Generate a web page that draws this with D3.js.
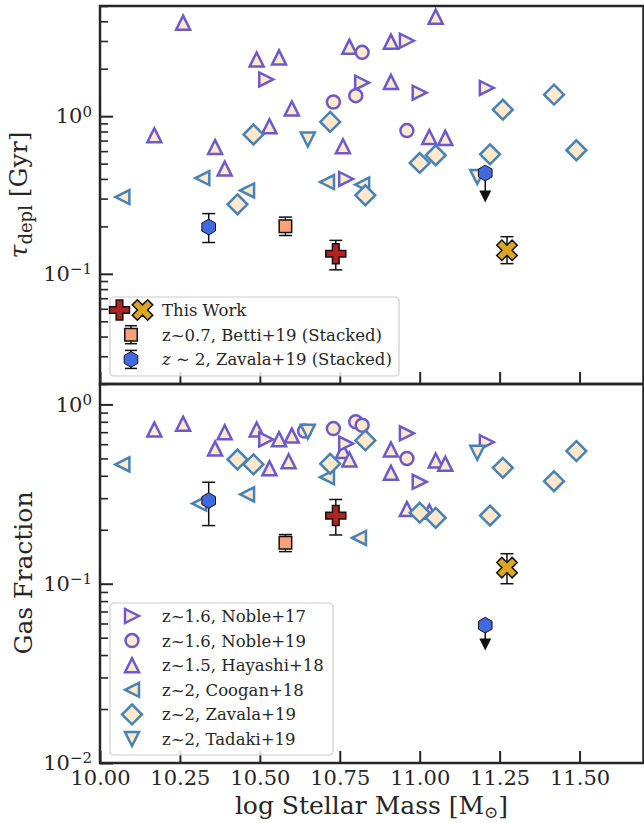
<!DOCTYPE html>
<html>
<head>
<meta charset="utf-8">
<script src="https://cdn.jsdelivr.net/npm/d3@7"></script>
<style>
  body { margin: 0; background: #fff; }
  text { font-family: "DejaVu Serif", serif; fill: #262626; }
</style>
</head>
<body>
<div id="chart"></div>
<script>
// ---- data ----
const xTicks = [10.0, 10.25, 10.5, 10.75, 11.0, 11.25, 11.5];

// top panel: depletion time [Gyr]
const noble17MassT = [10.52, 10.82, 10.96, 11.00, 11.21, 10.77];
const noble17Tau   = [1.71, 1.63, 3.01, 1.41, 1.51, 0.40];
const noble19MassT = [10.73, 10.80, 10.82, 10.96];
const noble19Tau   = [1.23, 1.35, 2.54, 0.81];
const hayashiMassT = [10.26, 10.49, 10.56, 10.60, 10.17, 10.53, 10.36, 10.39, 10.78, 11.05, 10.91, 10.91, 11.03, 11.08, 10.76];
const hayashiTau   = [3.92, 2.29, 2.36, 1.12, 0.757, 0.864, 0.638, 0.465, 2.76, 4.28, 2.97, 1.65, 0.738, 0.728, 0.645];
const cooganMassT  = [10.07, 10.32, 10.46, 10.71, 10.82];
const cooganTau    = [0.307, 0.405, 0.338, 0.382, 0.368];
const zavalaMassT  = [10.48, 10.43, 10.72, 10.83, 11.00, 11.05, 11.22, 11.26, 11.42, 11.49];
const zavalaTau    = [0.765, 0.276, 0.92, 0.315, 0.505, 0.565, 0.573, 1.10, 1.37, 0.608];
const tadakiMassT  = [10.65, 11.18];
const tadakiTau    = [0.711, 0.411];

// bottom panel: gas fraction
const noble17MassF = [10.52, 10.77, 10.96, 11.00, 11.21];
const noble17Fgas  = [0.638, 0.605, 0.69, 0.37, 0.616];
const noble19MassF = [10.64, 10.73, 10.80, 10.82, 10.96];
const noble19Fgas  = [0.71, 0.733, 0.80, 0.765, 0.50];
const hayashiMassF = [10.17, 10.26, 10.39, 10.36, 10.49, 10.56, 10.60, 10.53, 10.59, 10.76, 10.78, 10.91, 10.91, 10.96, 11.03, 11.05, 11.08];
const hayashiFgas  = [0.725, 0.78, 0.70, 0.567, 0.725, 0.64, 0.67, 0.44, 0.482, 0.549, 0.493, 0.561, 0.416, 0.261, 0.252, 0.487, 0.467];
const cooganMassF  = [10.07, 10.31, 10.46, 10.71, 10.81];
const cooganFgas   = [0.463, 0.28, 0.315, 0.393, 0.18];
const zavalaMassF  = [10.43, 10.48, 10.72, 10.83, 11.00, 11.05, 11.22, 11.26, 11.42, 11.49];
const zavalaFgas   = [0.493, 0.463, 0.467, 0.63, 0.249, 0.233, 0.24, 0.443, 0.373, 0.549];
const tadakiMassF  = [10.65, 11.18];
const tadakiFgas   = [0.704, 0.538];

// stacked points and this work: [mass, value, low, high]
const bettiTau  = [10.58, 0.20, 0.175, 0.229];
const bettiFgas = [10.58, 0.169, 0.151, 0.188];
const zavStackTau  = [10.34, 0.198, 0.158, 0.241];
const zavStackFgas = [10.34, 0.291, 0.211, 0.368];
// upper limits: [mass, value, arrow end]
const zavLimitTau  = [11.205, 0.436, 0.309];
const zavLimitFgas = [11.205, 0.0587, 0.0458];
const plusTau  = [10.7375, 0.134, 0.106, 0.163];
const plusFgas = [10.7375, 0.24, 0.187, 0.295];
const crossTau  = [11.273, 0.141, 0.116, 0.172];
const crossFgas = [11.273, 0.123, 0.100, 0.147];

const topLegend = ["This Work", "z~0.7, Betti+19 (Stacked)", "Zavala"];
const botLegend = ["z~1.6, Noble+17", "z~1.6, Noble+19", "z~1.5, Hayashi+18",
                   "z~2, Coogan+18", "z~2, Zavala+19", "z~2, Tadaki+19"];

// ---- styles ----
const FILL = "#FFE8CC", PURPLE = "#6A5ACD", STEEL = "#4682B4", INK = "#262626";

// matplotlib-like marker shapes, centred on 0,0
function poly(pts) { return "M" + pts.map(p => p[0].toFixed(2) + "," + p[1].toFixed(2)).join("L") + "Z"; }
function rot(p, deg) {
  const a = deg * Math.PI / 180;
  return [p[0] * Math.cos(a) - p[1] * Math.sin(a), p[0] * Math.sin(a) + p[1] * Math.cos(a)];
}
function marker(type, s) {
  const h = s / 2;
  if (type === "^" || type === "v" || type === ">" || type === "<") {
    const r = { "^": 0, ">": 90, "v": 180, "<": 270 }[type];
    return poly([[0, -h], [h, h], [-h, h]].map(p => rot(p, r)));
  }
  if (type === "o") return `M${h},0A${h},${h} 0 1,1 ${-h},0A${h},${h} 0 1,1 ${h},0Z`;
  if (type === "D") { const d = 0.707 * s; return poly([[0, -d], [d, 0], [0, d], [-d, 0]]); }
  if (type === "s") return poly([[-h, -h], [h, -h], [h, h], [-h, h]]);
  if (type === "h") return poly(d3.range(6).map(k => rot([0, -h], 60 * k)));
  if (type === "P") {
    const u = s / 6;
    return poly([[-1,-3],[1,-3],[1,-1],[3,-1],[3,1],[1,1],[1,3],[-1,3],[-1,1],[-3,1],[-3,-1],[-1,-1]].map(p => [p[0]*u, p[1]*u]));
  }
  if (type === "X") {
    const u = s / 4;
    return poly([[-1,-2],[0,-1],[1,-2],[2,-1],[1,0],[2,1],[1,2],[0,1],[-1,2],[-2,1],[-1,0],[-2,-1]].map(p => [p[0]*u, p[1]*u]));
  }
}

const surveyStyle = {
  noble17: { m: ">", s: 14, stroke: PURPLE },
  noble19: { m: "o", s: 13, stroke: PURPLE },
  hayashi: { m: "^", s: 14, stroke: PURPLE },
  coogan:  { m: "<", s: 14, stroke: STEEL },
  zavala:  { m: "D", s: 14, stroke: STEEL },
  tadaki:  { m: "v", s: 14, stroke: STEEL }
};

const W = 644, H = 823;
const svg = d3.select("#chart").append("svg").attr("width", W).attr("height", H);

const x = d3.scaleLinear().domain([10, 11.7]).range([100, 643.5]);
const yTop = d3.scaleLog().domain([0.02, 5]).range([384, 6]);
const yBot = d3.scaleLog().domain([0.01, 1.3]).range([763, 384]);

function drawAxes(y, showX) {
  const g = svg.append("g");
  const [y0, y1] = y.range();
  const decades = y.ticks().filter(v => Math.abs(Math.log10(v) - Math.round(Math.log10(v))) < 1e-9);
  const minors = y.ticks().filter(v => !decades.includes(v));

  // minor y ticks
  g.append("g").attr("transform", `translate(${x.range()[0]},0)`)
    .call(d3.axisLeft(y).tickValues(minors).tickSize(-8).tickSizeOuter(0).tickFormat(""))
    .call(a => a.select(".domain").remove())
    .call(a => a.selectAll("line").attr("stroke", INK).attr("stroke-width", 1.6));

  // major y ticks with 10^n labels
  g.append("g").attr("transform", `translate(${x.range()[0]},0)`)
    .call(d3.axisLeft(y).tickValues(decades).tickSize(-13).tickSizeOuter(0).tickPadding(8).tickFormat(""))
    .call(a => a.select(".domain").remove())
    .call(a => a.selectAll("line").attr("stroke", INK).attr("stroke-width", 2))
    .call(a => a.selectAll("text").each(function (d) {
      const t = d3.select(this).attr("font-size", 21).attr("fill", INK);
      const e = Math.round(Math.log10(d));
      t.text("10");
      t.append("tspan").attr("dy", "-0.45em").attr("font-size", 15).text(e < 0 ? "\u2212" + (-e) : e);
    }));

  // x ticks (inward)
  const xa = d3.axisBottom(x).tickValues(xTicks).tickSize(-12).tickSizeOuter(0).tickPadding(7)
    .tickFormat(showX ? d3.format(".2f") : "");
  g.append("g").attr("transform", `translate(0,${y0})`).call(xa)
    .call(a => a.select(".domain").remove())
    .call(a => a.selectAll("line").attr("stroke", INK).attr("stroke-width", 2))
    .call(a => a.selectAll("text").attr("font-size", 21).attr("fill", INK));

  return g;
}

function drawFrame(y) {
  const [y0, y1] = y.range();
  svg.append("rect").attr("x", x.range()[0]).attr("y", y1)
    .attr("width", x.range()[1] - x.range()[0]).attr("height", y0 - y1)
    .attr("fill", "none").attr("stroke", INK).attr("stroke-width", 2.5);
}

function scatter(y, key, mass, vals) {
  const st = surveyStyle[key];
  svg.append("g").selectAll("path").data(d3.zip(mass, vals)).join("path")
    .attr("transform", d => `translate(${x(d[0])},${y(d[1])})`)
    .attr("d", marker(st.m, st.s))
    .attr("fill", FILL).attr("stroke", st.stroke).attr("stroke-width", 2.5)
    .attr("stroke-linejoin", "miter");
}

function errPoint(y, p, m, s, fill, sw) {
  const g = svg.append("g");
  const cx = x(p[0]);
  g.append("line").attr("x1", cx).attr("x2", cx).attr("y1", y(p[2])).attr("y2", y(p[3]))
    .attr("stroke", "#111").attr("stroke-width", 1.5);
  [p[2], p[3]].forEach(v => g.append("line").attr("x1", cx - 6.5).attr("x2", cx + 6.5)
    .attr("y1", y(v)).attr("y2", y(v)).attr("stroke", "#111").attr("stroke-width", 1.5));
  g.append("path").attr("transform", `translate(${cx},${y(p[1])})`).attr("d", marker(m, s))
    .attr("fill", fill).attr("stroke", "#111").attr("stroke-width", sw).attr("stroke-linejoin", "miter");
}

function limitPoint(y, p) {
  const g = svg.append("g");
  const cx = x(p[0]);
  g.append("line").attr("x1", cx).attr("x2", cx).attr("y1", y(p[1])).attr("y2", y(p[2]))
    .attr("stroke", "#111").attr("stroke-width", 1.5);
  g.append("path").attr("transform", `translate(${cx},${y(p[2])})`).attr("d", marker("v", 12))
    .attr("fill", "#111");
  g.append("path").attr("transform", `translate(${cx},${y(p[1])})`).attr("d", marker("h", 15.7))
    .attr("fill", "#4169E1").attr("stroke", "#111").attr("stroke-width", 1);
}

function panel(y, sets, stacks, showX) {
  drawAxes(y, showX);
  sets.forEach(s => scatter(y, s[0], s[1], s[2]));
  errPoint(y, stacks.betti, "s", 12.5, "#FFA07A", 1.5);
  errPoint(y, stacks.zav, "h", 15.7, "#4169E1", 1);
  limitPoint(y, stacks.lim);
  errPoint(y, stacks.plus, "P", 20, "#B22222", 1.5);
  errPoint(y, stacks.cross, "X", 20.5, "#DAA520", 1.5);
  drawFrame(y);
}

panel(yTop, [
  ["hayashi", hayashiMassT, hayashiTau],
  ["noble17", noble17MassT, noble17Tau],
  ["noble19", noble19MassT, noble19Tau],
  ["coogan", cooganMassT, cooganTau],
  ["zavala", zavalaMassT, zavalaTau],
  ["tadaki", tadakiMassT, tadakiTau]
], { betti: bettiTau, zav: zavStackTau, lim: zavLimitTau, plus: plusTau, cross: crossTau }, false);

panel(yBot, [
  ["hayashi", hayashiMassF, hayashiFgas],
  ["noble17", noble17MassF, noble17Fgas],
  ["noble19", noble19MassF, noble19Fgas],
  ["coogan", cooganMassF, cooganFgas],
  ["zavala", zavalaMassF, zavalaFgas],
  ["tadaki", tadakiMassF, tadakiFgas]
], { betti: bettiFgas, zav: zavStackFgas, lim: zavLimitFgas, plus: plusFgas, cross: crossFgas }, true);

// ---- legends ----
function legendBox(x0, y0, w, h) {
  svg.append("rect").attr("x", x0).attr("y", y0).attr("width", w).attr("height", h)
    .attr("rx", 4).attr("fill", "#fff").attr("fill-opacity", 0.8)
    .attr("stroke", "#cccccc").attr("stroke-width", 1.2);
}
function legendText(y0, parts) {
  const t = svg.append("text").attr("x", 162).attr("y", y0).attr("dy", "0.36em").attr("font-size", 16.5);
  parts.forEach(p => t.append("tspan").attr("font-style", p.it ? "italic" : null).text(p.t));
}

legendBox(110, 297, 289, 79);
const rowT = i => 310 + i * 24.7;
// This Work
[["P", 119.5, "#B22222", 20], ["X", 142.5, "#DAA520", 20.5]].forEach(h =>
  svg.append("path").attr("transform", `translate(${h[1]},${rowT(0)})`).attr("d", marker(h[0], h[3]))
    .attr("fill", h[2]).attr("stroke", "#111").attr("stroke-width", 1.5));
legendText(rowT(0), [{ t: topLegend[0] }]);
[["s", "#FFA07A", 12.5, 1.5], ["h", "#4169E1", 15.7, 1]].forEach((h, i) => {
  const cy = rowT(i + 1), cx = 131;
  [-9, 9].forEach(o => svg.append("line").attr("x1", cx - 6).attr("x2", cx + 6).attr("y1", cy + o).attr("y2", cy + o)
    .attr("stroke", "#111").attr("stroke-width", 1.5));
  svg.append("line").attr("x1", cx).attr("x2", cx).attr("y1", cy - 9).attr("y2", cy + 9).attr("stroke", "#111").attr("stroke-width", 1.5);
  svg.append("path").attr("transform", `translate(${cx},${cy})`).attr("d", marker(h[0], h[2]))
    .attr("fill", h[1]).attr("stroke", "#111").attr("stroke-width", h[3]);
});
legendText(rowT(1), [{ t: topLegend[1] }]);
legendText(rowT(2), [{ t: "z", it: true }, { t: " \u223C 2, " + topLegend[2] + "+19 (Stacked)" }]);

legendBox(110, 603, 223, 152);
const keys = ["noble17", "noble19", "hayashi", "coogan", "zavala", "tadaki"];
keys.forEach((k, i) => {
  const cy = 616 + i * 24.6, st = surveyStyle[k];
  svg.append("path").attr("transform", `translate(132,${cy})`).attr("d", marker(st.m, st.s))
    .attr("fill", FILL).attr("stroke", st.stroke).attr("stroke-width", 2.5);
  legendText(cy, [{ t: botLegend[i] }]);
});

// ---- axis labels ----
const yl1 = svg.append("text").attr("transform", "translate(27,195) rotate(-90)")
  .attr("text-anchor", "middle").attr("font-size", 25);
yl1.append("tspan").attr("font-style", "italic").text("\u03C4");
yl1.append("tspan").attr("font-size", 18).attr("dy", "0.3em").text("depl");
yl1.append("tspan").attr("dy", "-0.22em").text(" [Gyr]");

svg.append("text").attr("transform", "translate(32,573) rotate(-90)")
  .attr("text-anchor", "middle").attr("font-size", 25).text("Gas Fraction");

const xl = svg.append("text").attr("x", 371.5).attr("y", 814).attr("text-anchor", "middle").attr("font-size", 25);
xl.append("tspan").text("log Stellar Mass [M");
xl.append("tspan").attr("font-size", 17).attr("dy", "0.25em").text("\u2299");
xl.append("tspan").attr("dy", "-0.18em").text("]");
</script>
</body>
</html>
